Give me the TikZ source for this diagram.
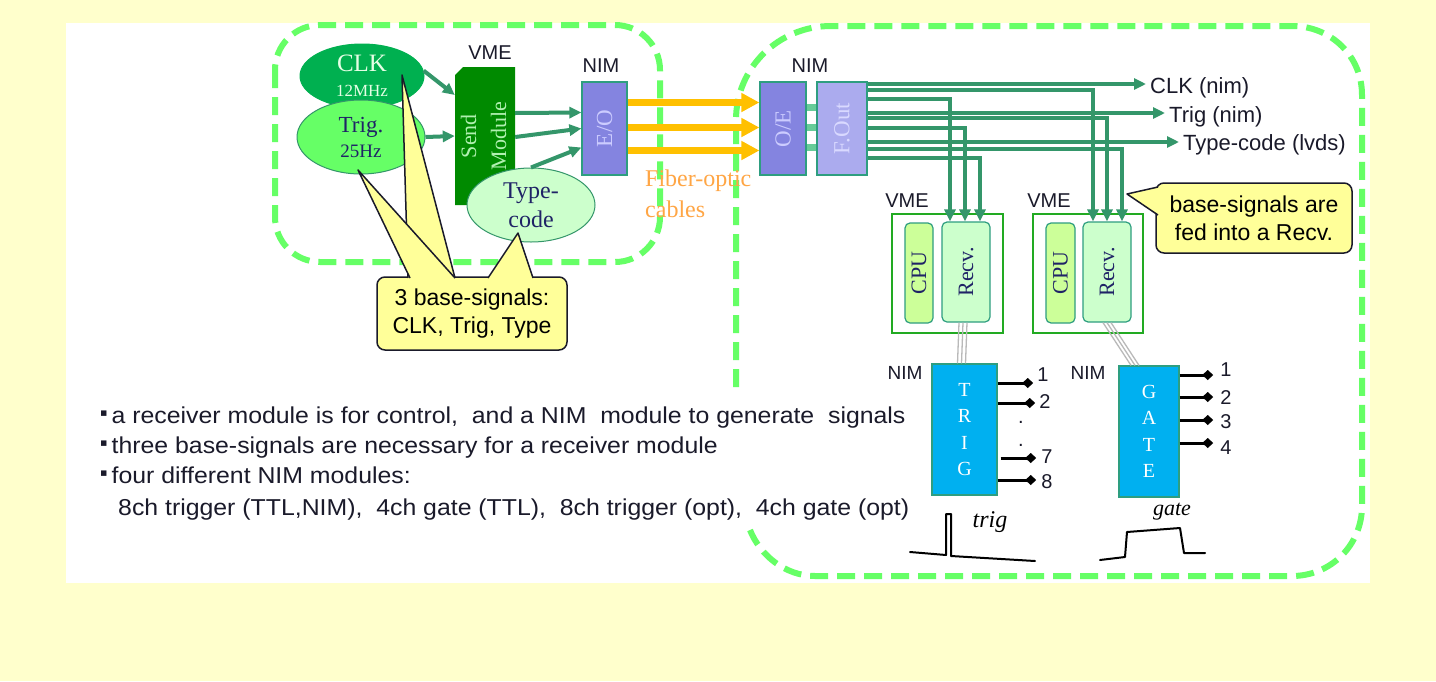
\documentclass[tikz,border=0pt]{standalone}
\usepackage{fontspec}
\setmainfont{Liberation Sans}
\newfontfamily\serif{Liberation Serif}
\newfontfamily\dejavu{DejaVu Sans}
\newfontfamily\widesans[FakeStretch=1.08]{Liberation Sans}
\usetikzlibrary{arrows.meta,calc,shapes.geometric}
\definecolor{bgyel}{HTML}{FFFFCC}
\definecolor{dashgr}{HTML}{66FF66}
\definecolor{sea}{HTML}{34966A}
\definecolor{clkgr}{HTML}{00B050}
\definecolor{triggr}{HTML}{66FF66}
\definecolor{mintfill}{HTML}{CCFFCC}
\definecolor{sendgr}{HTML}{008A00}
\definecolor{sendtxt}{HTML}{B0F0B0}
\definecolor{eoblue}{HTML}{8484E0}
\definecolor{foutblue}{HTML}{ABABEE}
\definecolor{modedge}{HTML}{2E9E80}
\definecolor{barmint}{HTML}{66CC99}
\definecolor{fiber}{HTML}{FFC000}
\definecolor{fibertxt}{HTML}{FFA645}
\definecolor{cpuyel}{HTML}{CCFF99}
\definecolor{vmegr}{HTML}{22AA22}
\definecolor{nimcyan}{HTML}{00B0F0}
\definecolor{callyel}{HTML}{FFFF99}
\definecolor{navy}{HTML}{1F2366}
\definecolor{ink}{HTML}{1A1A2A}
\newcommand\fsz[2]{\fontsize{#1}{#2}\selectfont}
\newcommand\blt{\raisebox{7pt}{\dejavu\fsz{11}{11}▪}\hspace{4pt}}
\begin{document}
\begin{tikzpicture}[x=1pt,y=-1pt,
 dashline/.style={draw=dashgr,line width=6pt,dash pattern=on 18pt off 9pt},
 ell/.style={ellipse,line width=1pt,inner sep=0pt,align=center},
 modbox/.style={rectangle,draw=modedge,line width=1.2pt,inner sep=0pt},
 garrow/.style={draw=sea,line width=4pt,-{Triangle[length=12pt,width=11pt]}},
 farrow/.style={draw=fiber,line width=7pt,-{Triangle[length=18pt,width=18pt]}},
 mintbar/.style={draw=barmint,line width=7pt},
 cable/.style={draw=gray!55,line width=1.3pt},
 outpin/.style={draw=black,line width=3pt,-{Diamond[length=11pt,width=10pt]}},
 lbl/.style={inner sep=0pt,text=ink},
 pinlbl/.style={inner sep=0pt,text=ink,anchor=base,font=\fsz{20}{20}},
 callbox/.style={rectangle,rounded corners=8pt,fill=callyel,draw=ink,line width=1.5pt,align=center,inner sep=0pt,text=black,font=\fsz{23}{28}},
 callptr/.style={fill=callyel,draw=ink,line width=1.5pt,line join=round},
 innerbox/.style={rectangle,rounded corners=5pt,draw=modedge,line width=1.2pt,inner sep=0pt,text=navy},
 vmebox/.style={rectangle,draw=vmegr,line width=1.2pt,fill=white,inner sep=0pt},
 nimbox/.style={rectangle,draw=modedge,line width=1.2pt,fill=nimcyan,inner sep=0pt,align=center,text=white,font=\serif\fsz{20}{26.5}},
 hand/.style={draw=black,line width=2pt,line join=round,line cap=round},
 bullettext/.style={inner sep=0pt,text=ink,anchor=base west,font=\widesans\fsz{23}{23}}
]
\useasboundingbox (0,0) rectangle (1436,681);
\fill[bgyel] (0,0) rectangle (1436,681);
\fill[white] (66,23) rectangle (1370,583);

% dashed regions
\draw[dashline,rounded corners=45pt] (275,25) rectangle (660,262);
\draw[dashline] (736,387) -- (736,120) .. controls (736,67) and (779,26) .. (831,26)
  -- (1292,26) .. controls (1331,26) and (1362,56) .. (1362,95)
  -- (1362,506) .. controls (1362,545) and (1331,576) .. (1292,576)
  -- (815,576) .. controls (785,576) and (760,555) .. (750,530);

% left group
\node[ell,fill=clkgr,draw=clkgr,minimum width=124pt,minimum height=64pt,text=white!90!green,font=\serif\fsz{25}{25}] (clk) at (362,76)
  {CLK\\{\fsz{17}{25}12MHz}};
\node[ell,fill=triggr,draw=sea,minimum width=128pt,minimum height=74pt,text=navy,font=\serif\fsz{23}{25}] (trig) at (361,137)
  {Trig.\\{\fsz{19}{25}25Hz}};
\fill[sendgr] (455,75) -- (463,67) -- (515,67) -- (515,205) -- (455,205) -- cycle;
\node[inner sep=0pt,minimum width=60pt,minimum height=138pt,text=sendtxt] (send) at (485,136)
  {\rotatebox{90}{\serif\fsz{22}{30}\begin{tabular}{@{}c@{}}Send\\Module\end{tabular}}};
\node[ell,fill=mintfill,draw=sea,minimum width=128pt,minimum height=74pt,text=navy,font=\serif\fsz{24}{29}] (type) at (531,205)
  {Type-\\code};
\node[modbox,fill=eoblue,minimum width=45pt,minimum height=93pt,text=white!80!blue] (eo) at (604.5,128.5)
  {\rotatebox{90}{\serif\fsz{23}{23}E/O}};
\node[lbl,anchor=base] (vmel) at (490,59) {\fsz{20}{20}VME};
\node[lbl,anchor=base] (nimeo) at (601,72) {\fsz{20}{20}NIM};

\draw[garrow] (clk.5) -- ([yshift=41pt]send.west);
\draw[garrow] (trig.east) -- (send.west);
\draw[garrow] ([yshift=23pt]send.east) -- ([yshift=16pt]eo.west);
\draw[garrow] ([yshift=-1pt]send.east) -- (eo.west);
\draw[garrow] (type.north) -- ([yshift=-19pt]eo.west);

% right group modules
\node[modbox,fill=eoblue,minimum width=46pt,minimum height=93pt,text=white!80!blue] (oe) at (783,128.5)
  {\rotatebox{90}{\serif\fsz{23}{23}O/E}};
\node[modbox,fill=foutblue,minimum width=50pt,minimum height=93pt,text=white!85!blue] (fout) at (842,128.5)
  {\rotatebox{90}{\serif\fsz{23}{23}F.Out}};
\node[lbl,anchor=base] (nimoe) at (810,72) {\fsz{20}{20}NIM};
\foreach \d in {21.5,1.5,-18.5}
  \draw[mintbar] ([yshift=\d pt]oe.east) -- ([yshift=\d pt]fout.west);

% fiber
\draw[farrow] ([yshift=26pt]eo.east) -- ([yshift=26pt]oe.west);
\draw[farrow] ([yshift=1pt]eo.east) -- ([yshift=1pt]oe.west);
\draw[farrow] ([yshift=-22pt]eo.east) -- ([yshift=-22pt]oe.west);
\node[inner sep=0pt,anchor=base west,text=fibertxt] (fib1) at (645,186) {\serif\fsz{24}{24}Fiber-optic};
\node[inner sep=0pt,anchor=base west,text=fibertxt] (fib2) at (645,217) {\serif\fsz{24}{24}cables};

% VME crates
\node[vmebox,minimum width=111pt,minimum height=119pt] (vme1) at (947.5,273.5) {};
\node[innerbox,fill=cpuyel,minimum width=28pt,minimum height=100pt] (cpu1) at (919,273) {\rotatebox{90}{\serif\fsz{22}{22}CPU}};
\node[innerbox,fill=mintfill,minimum width=48pt,minimum height=100pt] (recv1) at (966,272) {\rotatebox{90}{\serif\fsz{22}{22}Recv.}};
\node[vmebox,minimum width=110pt,minimum height=119pt] (vme2) at (1088,273.5) {};
\node[innerbox,fill=cpuyel,minimum width=29pt,minimum height=100pt] (cpu2) at (1060.5,273) {\rotatebox{90}{\serif\fsz{22}{22}CPU}};
\node[innerbox,fill=mintfill,minimum width=48pt,minimum height=100pt] (recv2) at (1107,272) {\rotatebox{90}{\serif\fsz{22}{22}Recv.}};
\node[lbl,anchor=base] (vme1l) at (907,207) {\fsz{20}{20}VME};
\node[lbl,anchor=base] (vme2l) at (1049,207) {\fsz{20}{20}VME};

% output labels
\node[lbl,anchor=base west,inner sep=4pt] (clkout) at (1146,93) {\fsz{22}{22}CLK (nim)};
\node[lbl,anchor=base west,inner sep=4pt] (trigout) at (1165,122) {\fsz{22}{22}Trig (nim)};
\node[lbl,anchor=base west,inner sep=4pt] (typeout) at (1179,150) {\fsz{22}{22}Type-code (lvds)};

% F.Out lines
\draw[garrow] ([yshift=44.5pt]fout.east) coordinate (o1) -- (o1 -| clkout.west);
\draw[garrow] ([yshift=15.5pt]fout.east) coordinate (o4) -- (o4 -| trigout.west);
\draw[garrow] ([yshift=-13.5pt]fout.east) coordinate (o7) -- (o7 -| typeout.west);
\draw[garrow] ([yshift=38.5pt]fout.east) -| ([xshift=-14pt]recv2.north);
\draw[garrow] ([yshift=29.5pt]fout.east) -| ([xshift=-16pt]recv1.north);
\draw[garrow] ([yshift=10.5pt]fout.east) -| (recv2.north);
\draw[garrow] ([yshift=0.5pt]fout.east) -| ([xshift=-1pt]recv1.north);
\draw[garrow] ([yshift=-20.5pt]fout.east) -| ([xshift=15pt]recv2.north);
\draw[garrow] ([yshift=-29.5pt]fout.east) -| ([xshift=14pt]recv1.north);

% NIM modules
\node[nimbox,minimum width=65pt,minimum height=131pt] (trigm) at (964.5,429.5) {T\\R\\I\\G};
\node[nimbox,minimum width=60pt,minimum height=131pt] (gatem) at (1149,431.5) {G\\A\\T\\E};
\node[lbl,anchor=base] (nimt) at (905,379) {\fsz{19}{19}NIM};
\node[lbl,anchor=base] (nimg) at (1088,379) {\fsz{19}{19}NIM};

\foreach \s in {-7,-3,1} \draw[cable] ([xshift=\s pt]recv1.south) -- ([xshift=\s pt]trigm.north);
\foreach \s/\t in {-4/-18,0/-14,4/-10} \draw[cable] ([xshift=\s pt]recv2.south) -- ([xshift=\t pt]gatem.north);

% trig outputs
\node[pinlbl] (t1) at (1043,381) {1};
\node[pinlbl] (t2) at (1045,408) {2};
\node[pinlbl] (td1) at (1021,423) {.};
\node[pinlbl] (td2) at (1021,446) {.};
\node[pinlbl] (t7) at (1047,463) {7};
\node[pinlbl] (t8) at (1047,488) {8};
\draw[outpin] ([yshift=46.5pt]trigm.east) coordinate (p1) -- ([xshift=-4pt]p1 -| t1.west);
\draw[outpin] ([yshift=26.5pt]trigm.east) coordinate (p2) -- ([xshift=-4pt]p2 -| t2.west);
\draw[outpin] ([yshift=-28.5pt,xshift=3pt]trigm.east) coordinate (p7) -- ([xshift=-5pt]p7 -| t7.west);
\draw[outpin] ([yshift=-50.5pt]trigm.east) coordinate (p8) -- ([xshift=-5pt]p8 -| t8.west);

% gate outputs
\node[pinlbl] (g1) at (1226,376) {1};
\node[pinlbl] (g2) at (1226,404) {2};
\node[pinlbl] (g3) at (1226,428) {3};
\node[pinlbl] (g4) at (1226,454) {4};
\draw[outpin] ([yshift=56.5pt]gatem.east) coordinate (q1) -- ([xshift=-7pt]q1 -| g1.west);
\draw[outpin] ([yshift=34.5pt]gatem.east) coordinate (q2) -- ([xshift=-7pt]q2 -| g2.west);
\draw[outpin] ([yshift=11.5pt]gatem.east) coordinate (q3) -- ([xshift=-7pt]q3 -| g3.west);
\draw[outpin] ([yshift=-11.5pt]gatem.east) coordinate (q4) -- ([xshift=-7pt]q4 -| g4.west);

% hand-drawn pulses
\draw[hand] (910,552) -- (946,555) -- (946,514) -- (951,514) -- (951,556) -- (1035,561);
\node[inner sep=0pt] (trigw) at (990,522) {\serif\itshape\fsz{24}{24}trig};
\draw[hand] (1100,560) -- (1125,557) -- (1127,532) -- (1180,528) -- (1184,553) -- (1205,553);
\node[inner sep=0pt] (gatew) at (1172,512) {\serif\itshape\fsz{22}{22}gate};

% callout 1
\node[callbox,minimum width=190pt,minimum height=73pt] (call1) at (472,313.5)
  {3 base-signals:\\CLK, Trig, Type};
\path[callptr] (408,278) -- (402,75) -- (455,278);
\path[callptr] (410,278) -- (358,170) -- (455,278);
\path[callptr] (488,278) -- (518,233) -- (533,278);

% callout 2
\node[callbox,minimum width=196pt,minimum height=70pt] (call2) at (1254,218)
  {base-signals are\\fed into a Recv.};
\path[callptr] (1158,187) -- (1127,194) -- (1158,215);

% bullet text
\node[bullettext] (b1) at (100,423) {\blt a receiver module is for control,\ \ and a NIM\ \ module to generate\ \ signals};
\node[bullettext] (b2) at (100,453) {\blt three base-signals are necessary for a receiver module};
\node[bullettext] (b3) at (100,483) {\blt four different NIM modules:};
\node[bullettext] (b4) at (118,515) {8ch trigger (TTL,NIM),\ \ 4ch gate (TTL),\ \ 8ch trigger (opt),\ \ 4ch gate (opt)};
\end{tikzpicture}
\end{document}
